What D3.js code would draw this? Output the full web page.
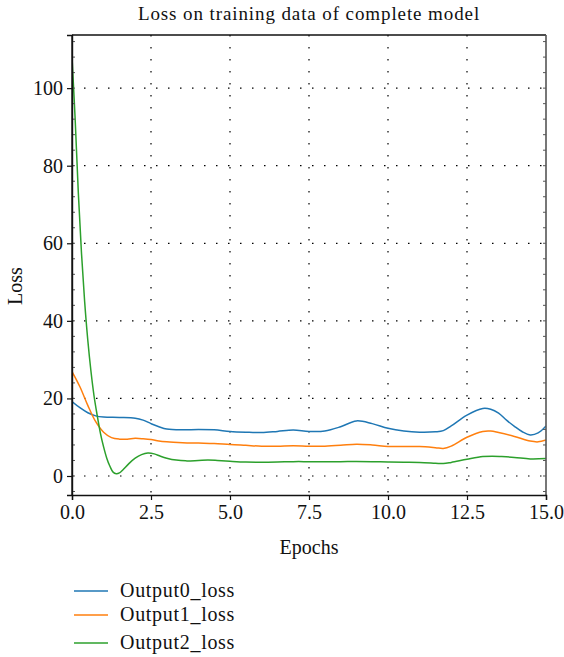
<!DOCTYPE html>
<html><head><meta charset="utf-8">
<script src="https://cdn.jsdelivr.net/npm/d3@7"></script>
<style>body{margin:0;background:#fff}svg{display:block}</style>
</head><body>
<svg id="c" width="564" height="657"></svg>
<script>
const title = "Loss on training data of complete model";
const xLabel = "Epochs", yLabel = "Loss";
const seriesNames = ["Output0_loss", "Output1_loss", "Output2_loss"];
const colors = ["#1f77b4", "#ff7f0e", "#2ca02c"];
const xTicks = [0, 2.5, 5, 7.5, 10, 12.5, 15];
const yTicks = [0, 20, 40, 60, 80, 100];

const output0 = [[0,19.2],[0.25,17.6],[0.5,16.3],[0.75,15.5],[1,15.2],[1.5,15.1],[2,14.9],[2.25,14.4],[2.5,13.5],[2.75,12.7],[3,12.1],[3.5,11.9],[4,12.0],[4.5,11.9],[5,11.5],[5.5,11.3],[6,11.2],[6.5,11.5],[7,11.85],[7.5,11.5],[8,11.6],[8.5,12.7],[9,14.2],[9.5,13.5],[10,12.3],[10.5,11.6],[11,11.3],[11.5,11.4],[11.75,11.7],[12,12.9],[12.5,15.7],[13,17.4],[13.25,17.2],[13.5,16.2],[13.75,14.4],[14,12.8],[14.25,11.4],[14.5,10.6],[14.75,11.1],[15,12.9]];
const output1 = [[0,26.9],[0.25,23.0],[0.5,18.2],[0.75,14.0],[1,11.3],[1.25,9.9],[1.5,9.5],[1.75,9.5],[2,9.7],[2.25,9.6],[2.5,9.4],[2.75,9.0],[3,8.8],[3.5,8.6],[4,8.5],[4.5,8.4],[5,8.1],[5.5,7.9],[6,7.7],[6.5,7.7],[7,7.8],[7.5,7.7],[8,7.7],[8.5,7.9],[9,8.2],[9.5,8.0],[10,7.6],[10.5,7.6],[11,7.6],[11.5,7.3],[11.75,7.1],[12,7.7],[12.5,10.0],[13,11.5],[13.25,11.6],[13.5,11.2],[14,10.2],[14.5,9.0],[14.75,8.8],[15,9.3]];
const output2 = [[0,108],[0.1,92],[0.2,73],[0.3,57.5],[0.4,45],[0.5,35],[0.6,27],[0.7,20.5],[0.8,15.5],[0.9,11],[1,7.5],[1.1,4.6],[1.2,2.5],[1.3,1.0],[1.4,0.6],[1.5,0.8],[1.6,1.5],[1.8,3.2],[2,4.6],[2.2,5.5],[2.4,5.9],[2.6,5.7],[2.8,5.1],[3,4.6],[3.3,4.1],[3.6,3.9],[4,4.0],[4.3,4.1],[4.6,4.0],[5,3.8],[5.5,3.6],[6,3.55],[6.5,3.6],[7,3.7],[7.5,3.7],[8,3.7],[8.5,3.7],[9,3.75],[9.5,3.7],[10,3.6],[10.5,3.55],[11,3.5],[11.5,3.3],[11.75,3.2],[12,3.5],[12.5,4.3],[13,5.0],[13.3,5.1],[13.6,5.0],[14,4.8],[14.5,4.4],[15,4.5]];
const series = [output0, output1, output2];

const L = 72, R = 546, T = 35, B = 495;
const x = d3.scaleLinear().domain([0, 15]).range([L, R]);
const y = d3.scaleLinear().domain([-4.9, 113.7]).range([B, T]);
const svg = d3.select("#c");
const font = "'Liberation Serif', 'DejaVu Serif', serif";

// grid
const g = svg.append("g");
g.selectAll(".vg").data(xTicks.slice(1, -1)).join("line")
  .attr("x1", d => x(d)).attr("x2", d => x(d)).attr("y1", T).attr("y2", B)
  .attr("stroke", "#000").attr("stroke-width", 1.2).attr("stroke-dasharray", "1.5,10.5");
g.selectAll(".hg").data(yTicks).join("line")
  .attr("x1", L).attr("x2", R).attr("y1", d => y(d)).attr("y2", d => y(d))
  .attr("stroke", "#000").attr("stroke-width", 1.2).attr("stroke-dasharray", "1.5,10.5");

// lines
const clipId = "clip";
svg.append("clipPath").attr("id", clipId).append("rect").attr("x", L).attr("y", T).attr("width", R - L).attr("height", B - T);
const line = d3.line().x(d => x(d[0])).y(d => y(d[1])).curve(d3.curveCatmullRom.alpha(0.5));
svg.append("g").attr("clip-path", `url(#${clipId})`).selectAll("path").data(series).join("path")
  .attr("d", line).attr("fill", "none").attr("stroke", (d, i) => colors[i]).attr("stroke-width", 1.5);

// minor ticks on left/right spines
const minor = d3.range(-4, 113, 4);
svg.append("g").selectAll("line").data(minor).join("line")
  .attr("x1", L).attr("x2", L + 3).attr("y1", d => y(d)).attr("y2", d => y(d)).attr("stroke", "#555").attr("stroke-width", 1);
svg.append("g").selectAll("line").data(minor).join("line")
  .attr("x1", R - 3).attr("x2", R).attr("y1", d => y(d)).attr("y2", d => y(d)).attr("stroke", "#555").attr("stroke-width", 1);

// frame
svg.append("line").attr("x1", L).attr("x2", R).attr("y1", T).attr("y2", T).attr("stroke", "#111").attr("stroke-width", 1.3);
svg.append("line").attr("x1", L).attr("x2", L).attr("y1", T).attr("y2", B).attr("stroke", "#333").attr("stroke-width", 1.6);
svg.append("line").attr("x1", R).attr("x2", R).attr("y1", T).attr("y2", B).attr("stroke", "#555").attr("stroke-width", 1.6);

// axes
const xAxis = svg.append("g").attr("transform", `translate(0,${B})`)
  .call(d3.axisBottom(x).tickValues(xTicks).tickFormat(d3.format(".1f")).tickSize(5).tickPadding(5));
const yAxis = svg.append("g").attr("transform", `translate(${L},0)`)
  .call(d3.axisLeft(y).tickValues(yTicks).tickFormat(d3.format("d")).tickSize(5).tickPadding(4));
[xAxis, yAxis].forEach(a => {
  a.select(".domain").attr("stroke", "#111").attr("stroke-width", 1.4);
  a.selectAll(".tick line").attr("stroke", "#111").attr("stroke-width", 1.2);
  a.selectAll("text").attr("font-family", font).attr("font-size", 20).attr("fill", "#111");
});

// title & labels
svg.append("text").attr("x", (L + R) / 2).attr("y", 20).attr("text-anchor", "middle")
  .attr("font-family", font).attr("font-size", 19).attr("letter-spacing", 0.9).attr("fill", "#111").text(title);
svg.append("text").attr("x", (L + R) / 2).attr("y", 554).attr("text-anchor", "middle")
  .attr("font-family", font).attr("font-size", 20).attr("fill", "#111").text(xLabel);
svg.append("text").attr("transform", "translate(22,286) rotate(-90)").attr("text-anchor", "middle")
  .attr("font-family", font).attr("font-size", 20).attr("fill", "#111").text(yLabel);

// legend
const leg = svg.append("g");
const legY = [591, 615, 643];
seriesNames.forEach((n, i) => {
  leg.append("line").attr("x1", 74).attr("x2", 108).attr("y1", legY[i]).attr("y2", legY[i])
    .attr("stroke", colors[i]).attr("stroke-width", 1.5);
  leg.append("text").attr("x", 120).attr("y", legY[i] + 6).attr("font-family", font)
    .attr("font-size", 20).attr("letter-spacing", 0.7).attr("fill", "#111").text(n);
});
</script>
</body></html>
